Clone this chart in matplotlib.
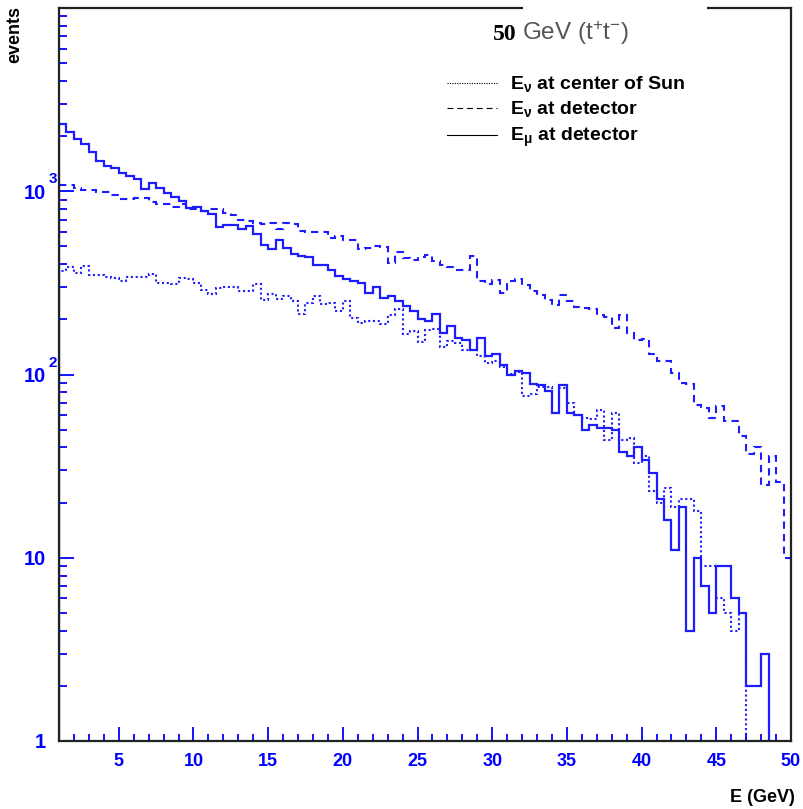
#!/usr/bin/env python3
"""
Energy spectra of neutrinos / muons from 50 GeV WIMP annihilation (t+t-) in the Sun.
"""

import matplotlib

matplotlib.use("Agg")
import matplotlib.pyplot as plt
import numpy as np
from matplotlib.lines import Line2D
from matplotlib.patches import Rectangle
from matplotlib.ticker import FixedLocator, LogLocator, MultipleLocator, NullFormatter

plt.rcParams["font.family"] = ["Liberation Sans", "DejaVu Sans"]
plt.rcParams["mathtext.fontset"] = "custom"
plt.rcParams["mathtext.rm"] = "Liberation Sans"
plt.rcParams["mathtext.bf"] = "Liberation Sans:bold"
plt.rcParams["mathtext.it"] = "Liberation Sans:italic"

# histogram binning: 98 bins of 0.5 GeV between 1 and 50 GeV
E_LO, E_HI, N_BINS = 1.0, 50.0, 98

# E_nu at center of Sun (dotted)
e_nu_sun = [
    365, 387, 358, 390, 347, 351, 341, 335, 323, 339,
    339, 339, 354, 316, 316, 312, 337, 330, 316, 290,
    275, 297, 299, 299, 284, 284, 312, 256, 275, 258,
    267, 251, 214, 246, 269, 243, 246, 221, 251, 203,
    192, 197, 195, 189, 212, 228, 167, 172, 151, 174,
    177, 141, 153, 148, 136, 136, 126, 115, 118, 110,
    101, 103, 76, 78, 86, 86, 62, 84, 70, 60,
    58, 57, 64, 44, 62, 44, 45, 33, 36, 23,
    20, 24, 19, 21, 21, 18, 9, 9, 6, 5,
    4, 5, 0, 0, 0, 0, 0, 0,
]

# E_nu at detector (dashed)
e_nu_det = [
    1085, 1077, 1047, 1011, 1011, 990, 990, 950, 903, 903,
    915, 915, 873, 848, 848, 823, 848, 802, 802, 779,
    802, 802, 763, 738, 701, 687, 670, 659, 670, 620,
    673, 665, 606, 601, 601, 601, 557, 569, 545, 539,
    487, 490, 501, 498, 406, 465, 433, 424, 438, 451,
    415, 398, 387, 374, 374, 442, 325, 310, 328, 279,
    323, 330, 309, 284, 273, 256, 240, 273, 251, 235,
    231, 229, 212, 207, 179, 212, 168, 155, 156, 130,
    119, 119, 102, 90, 89, 68, 66, 58, 67, 56,
    56, 46, 37, 40, 25, 36, 26, 10,
]

# E_mu at detector (solid)
e_mu_det = [
    2320, 2100, 1925, 1805, 1630, 1460, 1370, 1345, 1265, 1210,
    1170, 1030, 1105, 1037, 982, 934, 884, 813, 820, 780,
    748, 640, 651, 651, 626, 645, 581, 512, 481, 541,
    491, 455, 442, 435, 398, 398, 370, 343, 334, 324,
    316, 279, 302, 262, 267, 251, 236, 221, 200, 196,
    214, 168, 184, 159, 155, 136, 158, 126, 130, 112,
    99, 104, 102, 89, 88, 81, 62, 88, 62, 60,
    50, 53, 51, 51, 50, 38, 36, 40, 34, 29,
    21, 16, 11, 19, 4, 10, 7, 5, 9, 9,
    6, 5, 2, 2, 3, 0, 0, 0,
]

series_labels = ["at center of Sun", "at detector", "at detector"]
series_sub = [r"\nu", r"\nu", r"\mu"]

ytick_vals = [1, 10, 100, 1000]
ytick_base = ["1", "10", "10", "10"]
ytick_sup = ["", "", "2", "3"]

BLUE = "#0000ff"
LINE_BLUE = "#1c1cff"

W, H = 804, 809


def fx(px):
    return px / W


def fy(py):
    return 1 - py / H


def main() -> int:
    edges = np.linspace(E_LO, E_HI, N_BINS + 1)

    fig = plt.figure(figsize=(W / 100, H / 100), dpi=100)
    ax = fig.add_axes([fx(59), fy(741), (791 - 59) / W, (741 - 8) / H])

    ax.stairs(e_nu_sun, edges, baseline=0, color=LINE_BLUE, lw=1.5, ls=(0, (1, 1.3)))
    ax.stairs(e_nu_det, edges, baseline=0, color=LINE_BLUE, lw=1.5, ls=(0, (3.5, 2.5)))
    ax.stairs(e_mu_det, edges, baseline=0, color=LINE_BLUE, lw=1.6, ls="-")

    ax.set_yscale("log")
    ax.set_xlim(E_LO, E_HI)
    ax.set_ylim(1, 1e4)

    for sp in ax.spines.values():
        sp.set_linewidth(1.6)
        sp.set_color("#222222")

    ax.xaxis.set_major_locator(MultipleLocator(5))
    ax.xaxis.set_minor_locator(MultipleLocator(1))
    ax.yaxis.set_major_locator(FixedLocator(ytick_vals))
    ax.yaxis.set_minor_locator(LogLocator(base=10, subs=np.arange(2, 10)))
    ax.yaxis.set_minor_formatter(NullFormatter())

    ax.tick_params(which="both", direction="in", colors=BLUE, top=False, right=False,
                   labelleft=False, width=1.3)
    ax.tick_params(axis="y", which="major", length=11)
    ax.tick_params(axis="y", which="minor", length=6)
    ax.tick_params(axis="x", which="major", length=10, pad=9, labelsize=13)
    ax.tick_params(axis="x", which="minor", length=5)
    for lab in ax.get_xticklabels():
        lab.set_fontweight("bold")
        lab.set_color(BLUE)

    # y tick labels in ROOT style: 10 with raised exponent
    ytrans = ax.get_yaxis_transform()
    xl = (46 - 59) / (791 - 59)
    for val, base, sup in zip(ytick_vals, ytick_base, ytick_sup):
        ax.text(xl, val, base, transform=ytrans, ha="right", va="center_baseline",
                fontsize=14.5, fontweight="bold", color=BLUE)
        if sup:
            ax.annotate(sup, xy=(xl, val), xycoords=ytrans, xytext=(2, 3.5),
                        textcoords="offset points", ha="left", va="bottom",
                        fontsize=11, fontweight="bold", color=BLUE)

    fig.text(fx(795), fy(797), "E (GeV)", ha="right", va="center",
             fontsize=13, fontweight="bold")
    fig.text(fx(15), fy(6), "events", ha="center", va="top", rotation=90,
             fontsize=13, fontweight="bold")

    # title box covering the top frame
    fig.patches.append(Rectangle((fx(523), fy(30)), (707 - 523) / W, 30 / H,
                                 transform=fig.transFigure, facecolor="white",
                                 edgecolor="none", zorder=5))
    fig.text(fx(493), fy(40), "50", ha="left", va="baseline", fontsize=17,
             fontweight="bold", family="Liberation Serif", zorder=6)
    fig.text(fx(522), fy(40), r"GeV (t$^{+}$t$^{-}$)", ha="left", va="baseline",
             fontsize=17.5, color="#555555", zorder=6)

    # legend
    styles = [(0, (1, 1.2)), (0, (5.3, 3.5)), "-"]
    legend_y = [83, 108, 135]
    for ls, yy, sub, txt in zip(styles, legend_y, series_sub, series_labels):
        fig.add_artist(Line2D([fx(447), fx(497)], [fy(yy), fy(yy)], color="black",
                              lw=0.8, ls=ls, transform=fig.transFigure))
        fig.text(fx(510), fy(yy + 6), r"$\mathbf{E_{%s}}$ %s" % (sub, txt),
                 ha="left", va="baseline", fontsize=14, fontweight="bold")

    fig.savefig("out.png", dpi=100)
    plt.close(fig)
    return 0


if __name__ == "__main__":
    raise SystemExit(main())
